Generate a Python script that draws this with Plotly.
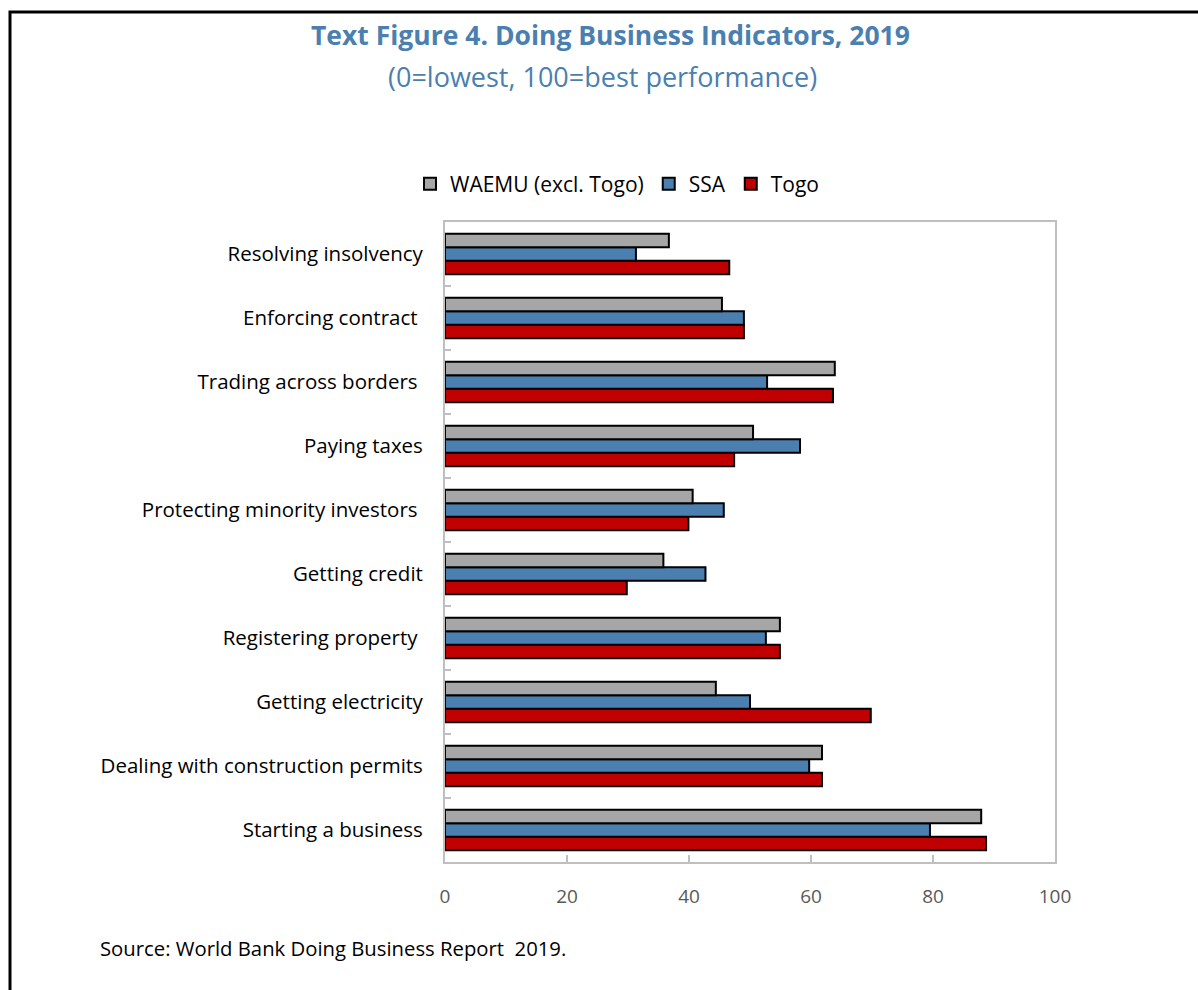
import plotly.graph_objects as go

categories = [
    "Starting a business",
    "Dealing with construction permits",
    "Getting electricity",
    "Registering property\u00a0",
    "Getting credit",
    "Protecting minority investors\u00a0",
    "Paying taxes",
    "Trading across borders\u00a0",
    "Enforcing contract\u00a0",
    "Resolving insolvency",
]
waemu = [87.9, 61.8, 44.4, 54.9, 35.8, 40.6, 50.5, 63.9, 45.4, 36.7]
ssa = [79.5, 59.7, 50.0, 52.6, 42.7, 45.7, 58.2, 52.8, 49.0, 31.3]
togo = [88.7, 61.8, 69.8, 54.9, 29.8, 39.9, 47.4, 63.6, 49.0, 46.6]
x_ticks = [0, 20, 40, 60, 80, 100]

FONT = "Open Sans"
L, R, T, B = 445, 1055, 222, 862
W, H = 1198, 990
pw, ph = R - L, B - T

def px(x):
    return (x - L) / pw

def py(y):
    return (B - y) / ph

fig = go.Figure()
line = dict(color="black", width=2)
fig.add_trace(go.Bar(y=categories, x=togo, orientation="h", name="Togo",
                     marker=dict(color="#C00000", line=line)))
fig.add_trace(go.Bar(y=categories, x=ssa, orientation="h", name="SSA",
                     marker=dict(color="#4A7FB0", line=line)))
fig.add_trace(go.Bar(y=categories, x=waemu, orientation="h", name="WAEMU (excl. Togo)",
                     marker=dict(color="#A6A6A6", line=line)))

fig.update_layout(
    width=W, height=H,
    margin=dict(l=L, r=W - R, t=T, b=H - B, autoexpand=False),
    paper_bgcolor="white", plot_bgcolor="white",
    barmode="group", bargap=0.37, bargroupgap=0,
    font=dict(family=FONT, size=20, color="black"),
    showlegend=True,
    legend=dict(orientation="h", traceorder="reversed", x=px(617), xanchor="center",
                y=py(184), yanchor="middle", font=dict(size=21, color="black"),
                itemwidth=30, bgcolor="rgba(0,0,0,0)"),
    xaxis=dict(range=[0, 100], tickvals=x_ticks, ticks="inside", ticklen=7,
               tickcolor="#BFBFBF", tickwidth=1.5, showline=True, linecolor="#BFBFBF",
               linewidth=2, mirror=True, showgrid=False, zeroline=False,
               tickfont=dict(size=19, color="#595959"), ticklabelstandoff=16),
    yaxis=dict(type="category", tickson="boundaries", ticks="inside", ticklen=6,
               tickcolor="#BFBFBF", tickwidth=1.5, showline=True, linecolor="#BFBFBF",
               linewidth=2, mirror=True, showgrid=False, zeroline=False,
               tickfont=dict(size=20.5, color="black"), ticklabelstandoff=16),
)

fig.add_annotation(text="<b>Text Figure 4. Doing Business Indicators, 2019</b>",
                   xref="paper", yref="paper", x=px(610), y=py(35), showarrow=False,
                   xanchor="center", yanchor="middle",
                   font=dict(family=FONT, size=26.5, color="#4A7FB0"))
fig.add_annotation(text="(0=lowest, 100=best performance)",
                   xref="paper", yref="paper", x=px(602), y=py(76), showarrow=False,
                   xanchor="center", yanchor="middle",
                   font=dict(family=FONT, size=27, color="#4A7FB0"))
fig.add_annotation(text="Source: World Bank Doing Business Report  2019.",
                   xref="paper", yref="paper", x=px(98), y=py(948), showarrow=False,
                   xanchor="left", yanchor="middle",
                   font=dict(family=FONT, size=20.3, color="black"))

fig.add_shape(type="rect", xref="paper", yref="paper",
              x0=px(10), x1=px(1230), y0=py(1020), y1=py(12),
              line=dict(color="black", width=3), fillcolor="rgba(0,0,0,0)", layer="below")

fig.write_html("out.html", config={"displayModeBar": False},
               post_script="document.body.style.margin='0';")
